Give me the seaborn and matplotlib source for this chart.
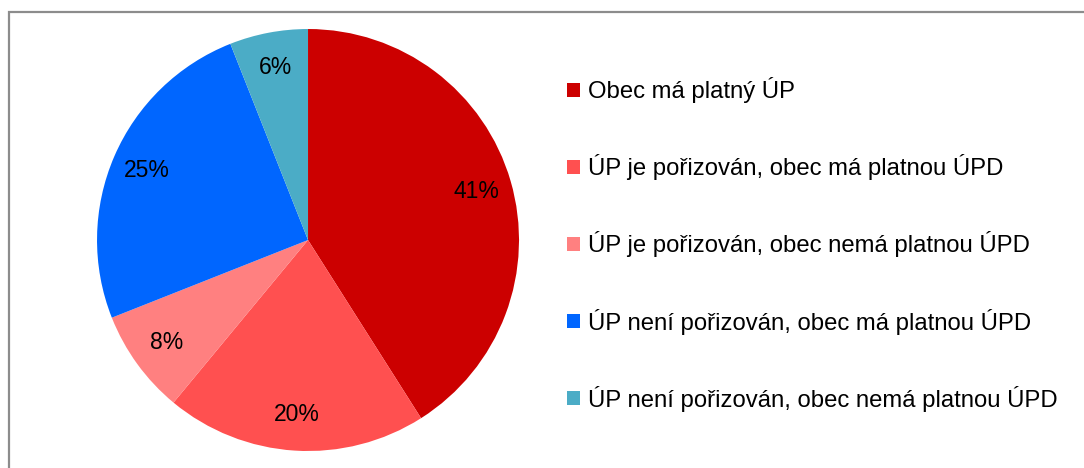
import seaborn as sns
import matplotlib.pyplot as plt
from matplotlib.patches import Rectangle

categories = [
    "Obec má platný ÚP",
    "ÚP je pořizován, obec má platnou ÚPD",
    "ÚP je pořizován, obec nemá platnou ÚPD",
    "ÚP není pořizován, obec má platnou ÚPD",
    "ÚP není pořizován, obec nemá platnou ÚPD",
]
shares = [41, 20, 8, 25, 6]
colors = ["#CC0000", "#FF5050", "#FF8080", "#0066FF", "#4BACC6"]

sns.set_theme(style="white")
plt.rcParams["font.family"] = ["Liberation Sans", "DejaVu Sans"]
plt.rcParams["text.color"] = "black"

fig = plt.figure(figsize=(10.84, 4.68), dpi=100)
ax = fig.add_axes([0.0895, 0.0363, 0.3893, 0.9017])

wedges, texts, autotexts = ax.pie(
    shares, colors=sns.color_palette(colors), startangle=90, counterclock=False,
    autopct="%d%%", pctdistance=0.83, radius=1.0,
    wedgeprops=dict(linewidth=0),
    textprops=dict(fontsize=16.5, color="black"),
)
ax.set_xlim(-1, 1)
ax.set_ylim(-1, 1)
ax.set_aspect("equal")

leg = fig.legend(wedges, categories, loc="upper left", bbox_to_anchor=(0.523, 0.835),
                 frameon=False, fontsize=17.2, handlelength=0.55, handleheight=0.55,
                 handletextpad=0.34, labelspacing=2.14, borderpad=0, borderaxespad=0)
for t in leg.get_texts():
    t.set_color("black")

fig.patches.append(Rectangle((9 / 1084, -0.1), 1.2, 1.074, transform=fig.transFigure,
                             fill=False, edgecolor="#8C8C8C", linewidth=1.6))

fig.savefig("out.png", dpi=100)
